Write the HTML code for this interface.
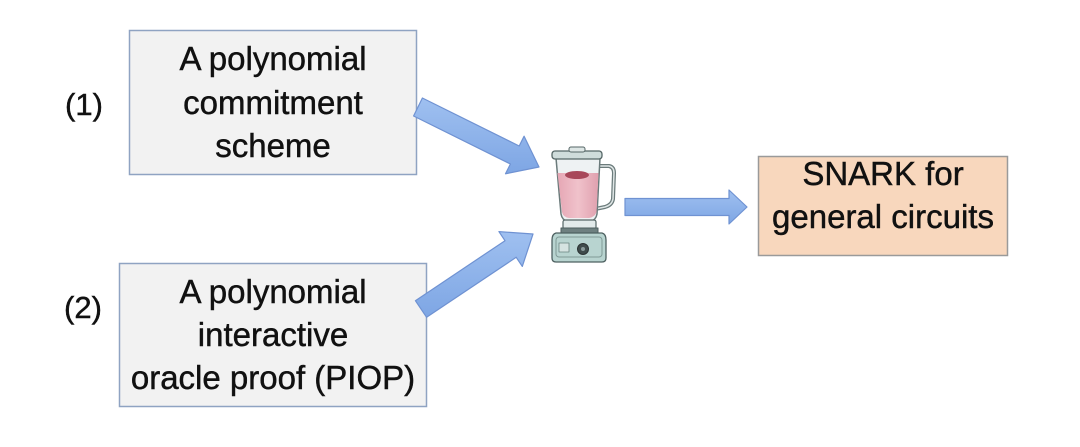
<!DOCTYPE html>
<html>
<head>
<meta charset="utf-8">
<style>
  html,body{margin:0;padding:0;background:#ffffff;}
  svg{display:block;}
  text{font-family:"Liberation Sans",Arial,sans-serif;fill:#111111;stroke:#111111;stroke-width:0.45px;}
</style>
</head>
<body>
<svg width="1080" height="447" viewBox="0 0 1080 447" xmlns="http://www.w3.org/2000/svg">
  <defs>
    <linearGradient id="ag" x1="0" y1="0" x2="0" y2="1">
      <stop offset="0" stop-color="#9fc0f0"/>
      <stop offset="1" stop-color="#7ea6e4"/>
    </linearGradient>
    <linearGradient id="liq" x1="0" y1="0" x2="1" y2="0">
      <stop offset="0" stop-color="#e6a6b4"/>
      <stop offset="0.5" stop-color="#f0c2cb"/>
      <stop offset="1" stop-color="#e0a0ae"/>
    </linearGradient>
  </defs>

  <!-- Box 1 -->
  <rect x="129.5" y="30.5" width="287" height="144" fill="#f2f2f2" stroke="#8fa3c2" stroke-width="1.5"/>
  <text x="273" y="70" font-size="33" text-anchor="middle">A polynomial</text>
  <text x="273" y="114" font-size="33" text-anchor="middle">commitment</text>
  <text x="273" y="157" font-size="33" text-anchor="middle">scheme</text>

  <!-- Box 2 -->
  <rect x="119.5" y="263.5" width="307" height="143" fill="#f2f2f2" stroke="#8fa3c2" stroke-width="1.5"/>
  <text x="273" y="303" font-size="33" text-anchor="middle">A polynomial</text>
  <text x="273" y="346" font-size="33" text-anchor="middle">interactive</text>
  <text x="273" y="389" font-size="33" text-anchor="middle">oracle proof (PIOP)</text>

  <!-- Labels -->
  <text x="84" y="115" font-size="31" text-anchor="middle">(1)</text>
  <text x="83" y="318" font-size="31" text-anchor="middle">(2)</text>

  <!-- SNARK box -->
  <rect x="758.5" y="156.5" width="249" height="99" fill="#f8d7bd" stroke="#9a9a9a" stroke-width="1.5"/>
  <text x="883" y="185" font-size="33" text-anchor="middle">SNARK for</text>
  <text x="883" y="228" font-size="33" text-anchor="middle">general circuits</text>

  <!-- Arrow 1 -->
  <polygon points="413.6,116 422.4,98 519.2,146 524.1,136.2 539,167 505.5,173.8 510.4,164" fill="url(#ag)" stroke="#6f92d2" stroke-width="1.2" stroke-linejoin="round"/>
  <!-- Arrow 2 -->
  <polygon points="426.6,317.3 415.4,300.7 505,240.7 498.9,231.6 533,234 522.3,266.4 516.2,257.3" fill="url(#ag)" stroke="#6f92d2" stroke-width="1.2" stroke-linejoin="round"/>
  <!-- Arrow 3 -->
  <polygon points="625,198.5 729,198.5 729,190 747,207 729,224 729,215.5 625,215.5" fill="url(#ag)" stroke="#6f92d2" stroke-width="1.2" stroke-linejoin="round"/>

  <!-- Blender -->
  <g stroke-linejoin="round">
    <path d="M597,166 L609,166 Q614,167 614,173 L613,199 Q612,205 605,207 L595,209" fill="none" stroke="#6b7b7b" stroke-width="4"/>
    <path d="M597,166 L609,166 Q614,167 614,173 L613,199 Q612,205 605,207 L595,209" fill="none" stroke="#dfe6e6" stroke-width="1.5"/>
    <path d="M556,158 L600,158 L597,214 Q596,220 590,222 L568,222 Q562,220 561,214 Z" fill="#eef2f3" stroke="#6b7b7b" stroke-width="1.5"/>
    <path d="M557.5,173 L598.5,173 L596.5,212 Q595,217 589,218 L569,218 Q563,217 562,212 Z" fill="url(#liq)"/>
    <ellipse cx="577" cy="175" rx="12" ry="4" fill="#a8485a"/>
    <rect x="552" y="151" width="50" height="8" rx="3" fill="#cfdcdb" stroke="#556666" stroke-width="1.3"/>
    <rect x="569" y="147" width="16" height="5" rx="2" fill="#dde6e5" stroke="#556666" stroke-width="1"/>
    <rect x="563" y="220" width="33" height="9" rx="2" fill="#e2eaea" stroke="#556666" stroke-width="1.2"/>
    <rect x="561" y="228" width="37" height="5" fill="#6e8080" stroke="#4d5f5f" stroke-width="1"/>
    <path d="M556,233 L602,233 Q606,234 606,240 L606,258 Q606,262 602,262 L556,262 Q552,262 552,258 L552,240 Q552,234 556,233 Z" fill="#b8d4d0" stroke="#4d6060" stroke-width="1.3"/>
    <rect x="556" y="237" width="46" height="20" rx="3" fill="none" stroke="#7f9a96" stroke-width="1"/>
    <rect x="559" y="243" width="10" height="9" fill="#d5e3e1" stroke="#6a8480" stroke-width="0.8"/>
    <circle cx="583" cy="249" r="5.5" fill="#3f4b4b" stroke="#2c3434" stroke-width="1"/>
    <circle cx="583" cy="249" r="2" fill="#8a9a9a"/>
  </g>
</svg>
</body>
</html>
